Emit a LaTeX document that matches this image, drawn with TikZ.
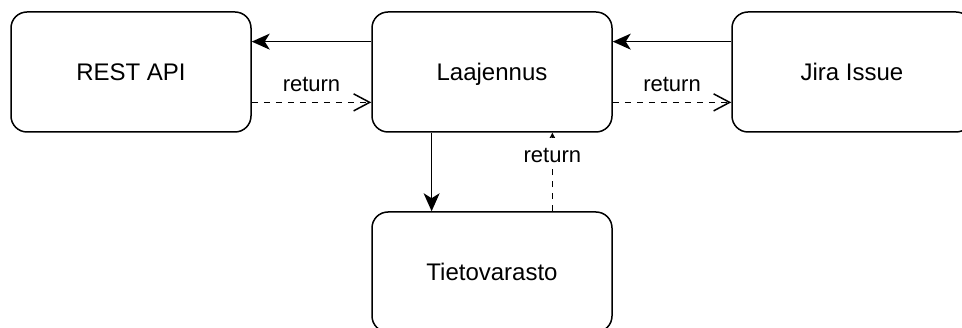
\documentclass[tikz,border=0pt]{standalone}
\usepackage{fontspec}
\setmainfont{Liberation Sans}
\usetikzlibrary{arrows.meta,calc}
\begin{document}
\begin{tikzpicture}[x=1pt,y=-1pt,
  box/.style={draw, line width=1.5pt, rounded corners=16pt,
    minimum width=240pt, minimum height=120pt, inner sep=0pt,
    text height=18pt, text depth=0pt, font=\fontsize{24}{28}\selectfont},
  call/.style={line width=1.5pt, -{Stealth[length=18pt,width=16pt,inset=5pt]}},
  reply/.style={line width=1.5pt, dash pattern=on 6pt off 6pt,
    -{Straight Barb[length=16pt,width=17pt,line width=1.5pt]}},
  lbl/.style={font=\fontsize{22}{26}\selectfont, inner sep=0pt}]
  \useasboundingbox (0,0) rectangle (962,328);
  \clip (0,0) rectangle (962,328);

  % components
  \node[box] (rest)  at (131,72)  {REST API};
  \node[box] (lae)   at (492,72)  {Laajennus};
  \node[box] (jira)  at (852,72)  {Jira Issue};
  \node[box] (tieto) at (492,272) {Tietovarasto};

  % calls and their returns
  \draw[call] ($(lae.west)!.5!(lae.north west)$) -- ($(rest.east)!.5!(rest.north east)$);
  \draw[reply] ($(rest.east)!.5!(rest.south east)$) -- node[lbl, above=10pt]{return}
    ($(lae.west)!.5!(lae.south west)$);

  \draw[call] ($(jira.west)!.5!(jira.north west)$) -- ($(lae.east)!.5!(lae.north east)$);
  \draw[reply] ($(lae.east)!.5!(lae.south east)$) -- node[lbl, above=10pt]{return}
    ($(jira.west)!.5!(jira.south west)$);

  \draw[call] ($(lae.south)!.5!(lae.south west)$) -- ($(tieto.north)!.5!(tieto.north west)$);
  \draw[reply] ($(tieto.north)!.5!(tieto.north east)$) --
    node[lbl, pos=0.625, anchor=base, fill=white, inner xsep=2pt,
         text height=24pt, text depth=6pt]{return}
    ($(lae.south)!.5!(lae.south east)$);
\end{tikzpicture}
\end{document}
